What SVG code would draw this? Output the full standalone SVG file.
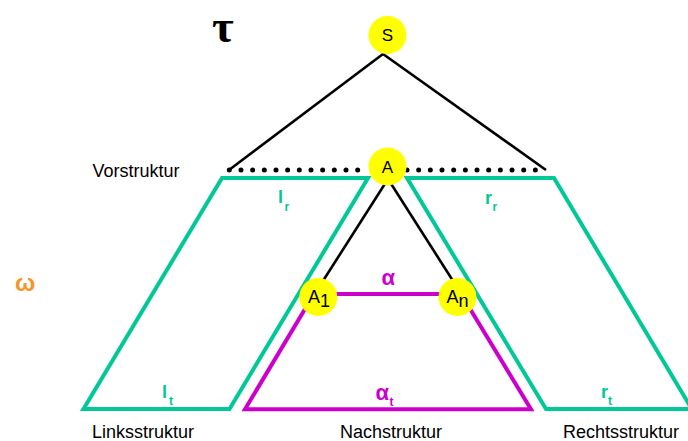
<svg xmlns="http://www.w3.org/2000/svg" width="688" height="441" viewBox="0 0 688 441">
<style>
.txt{font-family:"Liberation Sans",Arial,sans-serif;font-size:18px;fill:#000}
.edge{stroke:#000;stroke-width:2.6;fill:none}
.dots{stroke:#000;stroke-width:5;stroke-linecap:round;stroke-dasharray:0 11.67;fill:none}
.green{stroke:#00c896;stroke-width:4;fill:none;stroke-linejoin:miter}
.mag{stroke:#cc00cc;stroke-width:4;fill:none}
.node{fill:#ffff00}
.nl{font-family:"Liberation Sans",Arial,sans-serif;font-size:17px;fill:#000;text-anchor:middle}
.gl{font-family:"Liberation Sans",Arial,sans-serif;font-weight:bold;fill:#00c896}
.ml{font-family:"Liberation Sans",Arial,sans-serif;font-weight:bold;fill:#cc00cc}
</style>
<rect width="688" height="441" fill="#fff"/>
<text x="212" y="42" style="font-family:'Liberation Serif','Times New Roman',serif;font-size:47px;font-weight:bold;fill:#000">τ</text>
<text x="15" y="291" style="font-family:'Liberation Sans',Arial,sans-serif;font-size:24px;font-weight:bold;fill:#f5962a">ω</text>
<g id="connectors">
<line class="edge" x1="383" y1="54" x2="229" y2="170"/>
<line class="edge" x1="383" y1="54" x2="546" y2="170"/>
<line class="dots" x1="229.3" y1="170" x2="358" y2="170"/>
<line class="dots" x1="407" y1="170" x2="536" y2="170"/>
<line class="edge" x1="388" y1="179" x2="321" y2="284"/>
<line class="edge" x1="388" y1="179" x2="455" y2="284"/>
</g>
<g id="linksstruktur">
<polygon class="green" points="222,178 368,178 229.5,409 83.5,409"/>
<text class="gl" x="162" y="398" font-size="18">l</text><text class="gl" x="169" y="405" font-size="12">t</text>
<text class="gl" x="278" y="203" font-size="18">l</text><text class="gl" x="284.5" y="211" font-size="12">r</text>
</g>
<g id="rechtsstruktur">
<polyline class="green" points="688,409 546,409 407,178 554,178 693,411"/>
<text class="gl" x="485" y="204" font-size="18">r</text><text class="gl" x="492.5" y="211" font-size="12">r</text>
<text class="gl" x="601" y="398" font-size="18">r</text><text class="gl" x="608" y="405" font-size="12">t</text>
</g>
<g id="nachstruktur">
<polygon class="mag" points="314,294 461,294 531,409.3 245,409.3"/>
<text class="ml" x="381.5" y="285" font-size="22">α</text>
<text class="ml" x="375.5" y="400" font-size="22">α</text><text class="ml" x="389.5" y="406" font-size="12">t</text>
</g>
<g id="node-S">
<circle class="node" cx="387.5" cy="35" r="19"/>
<text class="nl" x="387.5" y="41">S</text>
</g>
<g id="node-A">
<circle class="node" cx="387.5" cy="166.5" r="19"/>
<text class="nl" x="387.5" y="172.5">A</text>
</g>
<g id="node-A1">
<circle class="node" cx="318.3" cy="297" r="19"/>
<text class="txt" x="308" y="303" font-size="17">A</text><text class="txt" x="320" y="307" font-size="10">1</text>
</g>
<g id="node-An">
<circle class="node" cx="457.5" cy="297" r="19"/>
<text class="txt" x="446.5" y="303" font-size="17">A</text><text class="txt" x="458.5" y="307" font-size="10">n</text>
</g>
<text class="txt" x="92.5" y="177" font-size="17.5">Vorstruktur</text>
<text class="txt" x="92" y="438">Linksstruktur</text>
<text class="txt" x="340" y="438">Nachstruktur</text>
<text class="txt" x="563" y="438">Rechtsstruktur</text>
</svg>
